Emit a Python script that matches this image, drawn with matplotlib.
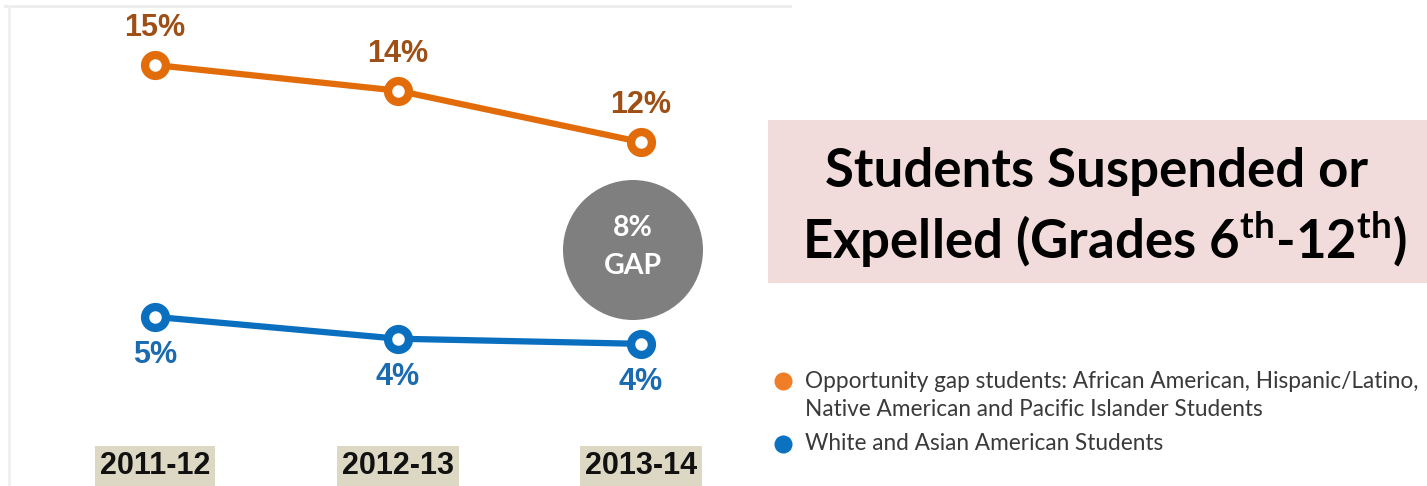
import matplotlib
matplotlib.use("Agg")
import matplotlib.pyplot as plt
from matplotlib.patches import Rectangle, Circle
from matplotlib.lines import Line2D

years = ["2011-12", "2012-13", "2013-14"]
gap_students = [15.0, 14.0, 12.0]
white_asian = [5.2, 4.35, 4.15]
gap_labels = ["15%", "14%", "12%"]
wa_labels = ["5%", "4%", "4%"]
gap_text = ["8%", "GAP"]
title_lines = ["Students Suspended or", r"Expelled (Grades 6$^{\mathbf{th}}$-12$^{\mathbf{th}}$)"]
legend_labels = ["Opportunity gap students: African American, Hispanic/Latino,\nNative American and Pacific Islander Students",
                 "White and Asian American Students"]

plt.rcParams['mathtext.fontset'] = 'custom'
plt.rcParams['mathtext.rm'] = 'Lato:bold'
plt.rcParams['mathtext.bf'] = 'Lato:bold'
plt.rcParams['mathtext.it'] = 'Lato:bold'

W, H = 1427, 486
fig = plt.figure(figsize=(W / 100, H / 100), dpi=100)
fig.patch.set_facecolor("white")

orange = "#e36c0a"
orange_txt = "#9e4f16"
blue = "#0a6fbf"
blue_txt = "#1b6bb0"

# chart axes spanning pixel x 0..790, y 0..486
ax = fig.add_axes([0, 0, 790 / W, 1])
px_per_x = 243.0
x0 = 155.0
ax.set_xlim(-x0 / px_per_x, (790 - x0) / px_per_x)
ppu = 25.7
ax.set_ylim(15 - (486 - 65) / ppu, 15 + 65 / ppu)
ax.axis("off")

xs = list(range(len(years)))
ax.plot(xs, gap_students, color=orange, lw=4.5, marker="o", ms=15,
        mfc="white", mec=orange, mew=6.0, solid_capstyle="round", zorder=3)
ax.plot(xs, white_asian, color=blue, lw=4.5, marker="o", ms=15,
        mfc="white", mec=blue, mew=6.0, solid_capstyle="round", zorder=3)

for x, v, lab in zip(xs, gap_students, gap_labels):
    ax.annotate(lab, (x, v), xytext=(0, 37), textcoords="offset pixels",
                ha="center", va="center", fontsize=22, fontweight="bold",
                color=orange_txt, family="Liberation Sans")
for x, v, lab in zip(xs, white_asian, wa_labels):
    ax.annotate(lab, (x, v), xytext=(0, -38), textcoords="offset pixels",
                ha="center", va="center", fontsize=22, fontweight="bold",
                color=blue_txt, family="Liberation Sans")

# year labels with beige background
for x, lab in zip(xs, years):
    ax.annotate(lab, (x, 0), xycoords=("data", "axes fraction"),
                xytext=(0, 20), textcoords="offset pixels",
                ha="center", va="center", fontsize=22, fontweight="bold",
                color="#111111", family="Liberation Sans",
                bbox=dict(boxstyle="square,pad=0.15", fc="#dcd8c4", ec="none"))

# faint frame lines
fig.add_artist(Line2D([5 / W, 790 / W], [1 - 6 / H, 1 - 6 / H], transform=fig.transFigure,
                      color="#ececec", lw=2))
fig.add_artist(Line2D([9 / W, 9 / W], [0, 1 - 6 / H], transform=fig.transFigure,
                      color="#f0f0f0", lw=2))

# gap circle
cax = fig.add_axes([(633 - 72) / W, 1 - (250 + 72) / H, 144 / W, 144 / H])
cax.set_xlim(-72, 72)
cax.set_ylim(-72, 72)
cax.axis("off")
cax.add_patch(Circle((0, 0), 70, fc="#7f7f7f", ec="none"))
cax.text(0, 22, gap_text[0], ha="center", va="center", fontsize=20.5,
         fontweight="bold", color="white", family="Lato")
cax.text(0, -16, gap_text[1], ha="center", va="center", fontsize=20.5,
         fontweight="bold", color="white", family="Lato")

# title box
fig.add_artist(Rectangle((768 / W, 1 - 283 / H), (W - 768) / W, 163 / H,
                         transform=fig.transFigure, fc="#f2dcdb", ec="none"))
fig.text(1097 / W, 1 - 171 / H, title_lines[0], ha="center", va="center",
         fontsize=38, fontweight="bold", color="black", family="Lato")
fig.text(1105 / W, 1 - 240 / H, title_lines[1], ha="center", va="center",
         fontsize=38, fontweight="bold", color="black", family="Lato")

# legend
fig.add_artist(Line2D([783 / W], [1 - 381 / H], transform=fig.transFigure,
                      marker="o", ms=13, mfc="#f07d28", mec="none", ls="none"))
fig.add_artist(Line2D([783 / W], [1 - 444 / H], transform=fig.transFigure,
                      marker="o", ms=13, mfc="#0b72c2", mec="none", ls="none"))
leg_line1, leg_line2 = legend_labels[0].split("\n")
fig.text(805 / W, 1 - 381 / H, leg_line1, ha="left", va="center",
         fontsize=16.3, color="#3a3a3a", family="Lato")
fig.text(805 / W, 1 - 409 / H, leg_line2, ha="left", va="center",
         fontsize=16.3, color="#3a3a3a", family="Lato")
fig.text(805 / W, 1 - 444 / H, legend_labels[1], ha="left", va="center",
         fontsize=16.3, color="#3a3a3a", family="Lato")

fig.savefig("out.png", dpi=100)
